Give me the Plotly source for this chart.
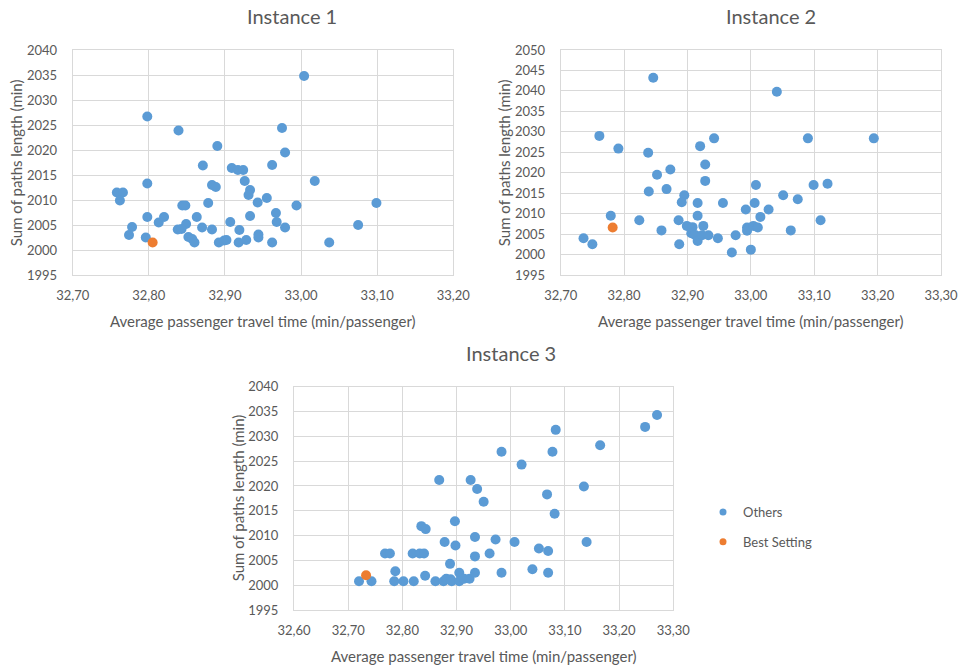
import plotly.graph_objects as go

# ---- Instance 1 ----
inst1_others_x = [32.798, 32.839, 32.890, 32.871, 32.909, 32.917, 32.924, 32.926, 32.933, 32.931,
                  32.798, 32.758, 32.766, 32.762, 32.883, 32.888, 32.878, 32.844, 32.848, 32.798,
                  32.813, 32.820, 32.863, 32.870, 32.883, 32.849, 32.838, 32.843, 32.778, 32.774,
                  32.796, 32.852, 32.857, 32.860, 32.892, 32.899, 32.902, 32.918, 32.928, 32.919,
                  32.907, 32.933, 32.944, 32.944, 32.943, 32.955, 32.962, 32.967, 32.968, 33.004,
                  32.975, 32.979, 32.962, 33.018, 32.994, 32.979, 33.037, 33.075, 33.099]
inst1_others_y = [2026.7, 2023.9, 2020.8, 2016.9, 2016.4, 2016.0, 2016.0, 2013.8, 2012.0, 2011.0,
                  2013.3, 2011.5, 2011.5, 2009.9, 2013.0, 2012.6, 2009.4, 2008.9, 2008.9, 2006.6,
                  2005.5, 2006.6, 2006.6, 2004.5, 2004.1, 2005.2, 2004.1, 2004.2, 2004.6, 2003.0,
                  2002.5, 2002.6, 2002.2, 2001.5, 2001.5, 2001.9, 2002.0, 2001.5, 2002.0, 2004.0,
                  2005.6, 2006.8, 2003.1, 2002.5, 2009.5, 2010.4, 2001.5, 2007.4, 2005.6, 2034.8,
                  2024.4, 2019.5, 2017.0, 2013.8, 2008.9, 2004.5, 2001.5, 2005.0, 2009.4]
inst1_best_x = [32.805]
inst1_best_y = [2001.5]

# ---- Instance 2 ----
inst2_others_x = [32.846, 32.761, 32.791, 32.838, 32.873, 32.852, 32.928, 32.942, 32.920, 32.928,
                  32.839, 32.867, 32.895, 32.891, 32.916, 32.956, 32.916, 32.779, 32.824, 32.886,
                  32.859, 32.736, 32.750, 32.887, 32.899, 32.908, 32.925, 32.906, 32.912, 32.916,
                  32.923, 32.933, 32.948, 32.970, 33.041, 33.090, 33.194, 33.008, 33.099, 33.121,
                  33.051, 33.074, 33.006, 32.992, 33.028, 33.015, 33.110, 32.994, 32.994, 33.004,
                  33.011, 33.063, 32.976, 33.000]
inst2_others_y = [2043.2, 2029.0, 2025.9, 2024.9, 2020.8, 2019.5, 2022.0, 2028.4, 2026.5, 2018.0,
                  2015.4, 2016.0, 2014.5, 2012.8, 2012.6, 2012.6, 2009.5, 2009.5, 2008.4, 2008.4,
                  2005.9, 2004.0, 2002.5, 2002.5, 2007.0, 2006.7, 2007.0, 2005.2, 2004.8, 2003.3,
                  2004.7, 2004.7, 2004.0, 2000.5, 2039.8, 2028.4, 2028.4, 2017.0, 2017.0, 2017.3,
                  2014.5, 2013.5, 2012.6, 2011.0, 2011.0, 2009.2, 2008.4, 2006.6, 2005.8, 2007.0,
                  2006.6, 2005.9, 2004.7, 2001.2]
inst2_best_x = [32.782]
inst2_best_y = [2006.6]

# ---- Instance 3 ----
inst3_others_x = [32.720, 32.743, 32.768, 32.777, 32.787, 32.785, 32.802, 32.821, 32.819, 32.832,
                  32.840, 32.835, 32.843, 32.842, 32.868, 32.878, 32.888, 32.897, 32.898, 32.861,
                  32.876, 32.881, 32.889, 32.891, 32.905, 32.905, 32.914, 32.924, 32.926, 32.938,
                  32.950, 32.934, 32.934, 32.934, 33.270, 33.248, 33.165, 33.083, 33.077, 32.983,
                  33.020, 33.135, 33.067, 33.081, 32.972, 33.007, 33.052, 33.069, 33.140, 32.961,
                  32.983, 33.040, 33.069]
inst3_others_y = [2000.8, 2000.8, 2006.4, 2006.4, 2002.8, 2000.8, 2000.8, 2000.8, 2006.4, 2006.4,
                  2006.4, 2011.9, 2011.3, 2001.9, 2021.2, 2008.7, 2004.3, 2012.9, 2008.0, 2000.8,
                  2000.8, 2001.3, 2001.2, 2000.8, 2002.5, 2000.8, 2001.3, 2001.3, 2021.2, 2019.4,
                  2016.8, 2009.7, 2005.8, 2002.5, 2034.3, 2031.9, 2028.2, 2031.3, 2026.9, 2026.9,
                  2024.3, 2019.9, 2018.3, 2014.4, 2009.2, 2008.7, 2007.4, 2006.9, 2008.7, 2006.4,
                  2002.5, 2003.2, 2002.5]
inst3_best_x = [32.733]
inst3_best_y = [2002.0]

panel_titles = ["Instance 1", "Instance 2", "Instance 3"]
x_title = "Average passenger travel time (min/passenger)"
y_title = "Sum of paths length (min)"
series_names = ["Others", "Best Setting"]

BLUE = "#5B9BD5"
ORANGE = "#ED7D31"
TEXT = "#595959"
GRID = "#D9D9D9"
FONT = "Lato"
W, H = 964, 669

panels = [
    dict(ox=inst1_others_x, oy=inst1_others_y, bx=inst1_best_x, by=inst1_best_y,
         xr=[32.70, 33.20], yr=[1995, 2040], xpx=(72.7, 453.3), ypx=(50, 275), tx=292),
    dict(ox=inst2_others_x, oy=inst2_others_y, bx=inst2_best_x, by=inst2_best_y,
         xr=[32.70, 33.30], yr=[1995, 2050], xpx=(560.7, 941), ypx=(50, 275), tx=771),
    dict(ox=inst3_others_x, oy=inst3_others_y, bx=inst3_best_x, by=inst3_best_y,
         xr=[32.60, 33.30], yr=[1995, 2040], xpx=(294, 673.3), ypx=(386.7, 610), tx=511),
]

fig = go.Figure()
layout = dict(
    width=W, height=H, margin=dict(l=0, r=0, t=0, b=0, pad=0, autoexpand=False),
    paper_bgcolor="white", plot_bgcolor="white",
    separators=",.",
    font=dict(family=FONT, color=TEXT, size=13),
    showlegend=True,
    legend=dict(x=703 / W, y=1 - 497 / H, xanchor="left", yanchor="top",
                font=dict(size=13, color=TEXT, family=FONT),
                tracegroupgap=10, bgcolor="rgba(0,0,0,0)"),
)
annotations = []

for i, p in enumerate(panels, start=1):
    xa = "x" if i == 1 else f"x{i}"
    ya = "y" if i == 1 else f"y{i}"
    fig.add_trace(go.Scatter(x=p["ox"], y=p["oy"], mode="markers", xaxis=xa, yaxis=ya,
                             marker=dict(color=BLUE, size=10), showlegend=False,
                             name=series_names[0], hoverinfo="x+y"))
    fig.add_trace(go.Scatter(x=p["bx"], y=p["by"], mode="markers", xaxis=xa, yaxis=ya,
                             marker=dict(color=ORANGE, size=10), showlegend=False,
                             name=series_names[1], hoverinfo="x+y"))

    x0, x1 = p["xpx"]
    y0, y1 = p["ypx"]
    xkey = "xaxis" if i == 1 else f"xaxis{i}"
    ykey = "yaxis" if i == 1 else f"yaxis{i}"
    layout[xkey] = dict(
        domain=[x0 / W, x1 / W], anchor=ya, range=p["xr"], dtick=0.1, tick0=32.6,
        tickformat=".2f", showgrid=True, gridcolor=GRID, gridwidth=1, zeroline=False,
        showline=True, linecolor=GRID, linewidth=1, mirror=True, automargin=False,
        ticks="outside", ticklen=8, tickcolor="rgba(0,0,0,0)",
        tickfont=dict(size=13, color=TEXT, family=FONT), fixedrange=True,
    )
    layout[ykey] = dict(
        domain=[1 - y1 / H, 1 - y0 / H], anchor=xa, range=p["yr"], dtick=5,
        tickformat="d", showgrid=True, gridcolor=GRID, gridwidth=1, zeroline=False,
        showline=True, linecolor=GRID, linewidth=1, mirror=True, automargin=False,
        ticks="outside", ticklen=12, tickcolor="rgba(0,0,0,0)",
        tickfont=dict(size=13, color=TEXT, family=FONT), fixedrange=True,
    )

    # panel title
    annotations.append(dict(text=panel_titles[i - 1], xref="paper", yref="paper",
                            x=p["tx"] / W, y=1 - (y0 - 34) / H,
                            xanchor="center", yanchor="middle",
                            showarrow=False, font=dict(size=20, color=TEXT, family=FONT)))
    # x-axis title
    annotations.append(dict(text=x_title, xref="paper", yref="paper",
                            x=((x0 + x1) / 2) / W, y=1 - (y1 + 46) / H,
                            xanchor="center", yanchor="middle", showarrow=False,
                            font=dict(size=15, color=TEXT, family=FONT)))
    # y-axis title
    annotations.append(dict(text=y_title, xref="paper", yref="paper",
                            x=(x0 - 56) / W, y=1 - ((y0 + y1) / 2) / H,
                            xanchor="center", yanchor="middle", textangle=-90,
                            showarrow=False, font=dict(size=15, color=TEXT, family=FONT)))

# legend entries
fig.add_trace(go.Scatter(x=[None], y=[None], mode="markers", name=series_names[0],
                         marker=dict(color=BLUE, size=7), legendgroup="a"))
fig.add_trace(go.Scatter(x=[None], y=[None], mode="markers", name=series_names[1],
                         marker=dict(color=ORANGE, size=7), legendgroup="b"))

layout["annotations"] = annotations
fig.update_layout(**layout)
fig.write_html("out.html")
